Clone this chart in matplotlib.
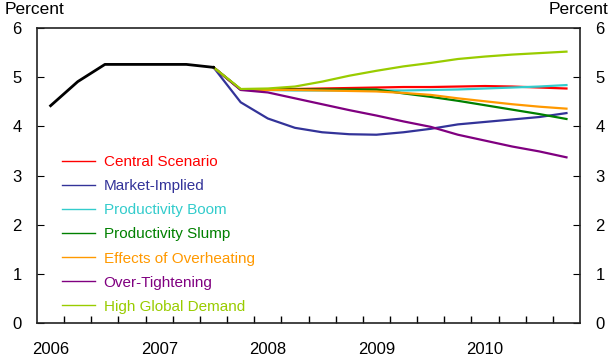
import numpy as np
import matplotlib.pyplot as plt

plt.rcParams['font.family'] = ['Liberation Sans', 'DejaVu Sans']

# quarterly points, 2006 Q1 .. 2010 Q4
quarters = np.arange(20)
year_labels = ['2006', '2007', '2008', '2009', '2010']

history = [4.42, 4.91, 5.26, 5.26, 5.26, 5.26, 5.20]

# scenarios start from 2007 Q3 (index 6)
central = [5.20, 4.75, 4.75, 4.76, 4.77, 4.78, 4.79, 4.80, 4.80, 4.81, 4.82, 4.81, 4.79, 4.77]
market = [5.20, 4.49, 4.16, 3.97, 3.88, 3.84, 3.83, 3.88, 3.95, 4.04, 4.09, 4.14, 4.19, 4.27]
boom = [5.20, 4.75, 4.74, 4.73, 4.73, 4.73, 4.73, 4.73, 4.74, 4.75, 4.77, 4.79, 4.81, 4.84]
slump = [5.20, 4.75, 4.75, 4.75, 4.75, 4.75, 4.75, 4.67, 4.60, 4.52, 4.43, 4.34, 4.25, 4.15]
overheat = [5.20, 4.75, 4.74, 4.74, 4.73, 4.72, 4.71, 4.68, 4.64, 4.57, 4.51, 4.45, 4.40, 4.36]
tight = [5.20, 4.74, 4.69, 4.57, 4.45, 4.33, 4.22, 4.10, 3.99, 3.83, 3.71, 3.59, 3.49, 3.37]
global_demand = [5.20, 4.76, 4.77, 4.81, 4.91, 5.03, 5.13, 5.22, 5.29, 5.37, 5.42, 5.46, 5.49, 5.52]

names = ['Central Scenario', 'Market-Implied', 'Productivity Boom', 'Productivity Slump',
         'Effects of Overheating', 'Over-Tightening', 'High Global Demand']
series = [central, market, boom, slump, overheat, tight, global_demand]
colors = ['#FF0000', '#333399', '#33CCCC', '#008000', '#FF9900', '#800080', '#99CC00']

fig = plt.figure(figsize=(6.1, 3.64), dpi=100)
ax = fig.add_axes([0.0607, 0.1126, 0.8902, 0.8104])

ax.plot(quarters[:7], history, color='black', lw=2.0, zorder=5)
for vals, c, n in zip(series, colors, names):
    ax.plot(quarters[6:], vals, color=c, lw=1.6, label=n)

ax.set_xlim(-0.5, 19.5)
ax.set_ylim(0, 6)
ax.set_xticks(quarters[::4])
ax.set_xticklabels(year_labels)
ax.set_xticks(np.arange(0.5, 19, 1), minor=True)
ax.tick_params(axis='x', which='major', length=0, pad=14, labelsize=12)
ax.tick_params(axis='x', which='minor', direction='in', length=5, width=1)
ax.set_yticks(range(7))
ax.tick_params(axis='y', direction='in', length=5, labelsize=12, pad=11,
               left=True, right=True, labelleft=True, labelright=True)
for s in ax.spines.values():
    s.set_linewidth(1.2)
    s.set_color('#222222')

fig.text(0.008, 0.952, 'Percent', fontsize=12.5, ha='left', va='bottom')
fig.text(0.997, 0.952, 'Percent', fontsize=12.5, ha='right', va='bottom')

leg = ax.legend(loc='lower left', bbox_to_anchor=(0.02, -0.015), frameon=False,
                fontsize=11, handlelength=2.2, handletextpad=0.55,
                labelspacing=0.66, labelcolor='linecolor')
for line in leg.get_lines():
    line.set_linewidth(1.0)

fig.savefig('out.png', dpi=100)
